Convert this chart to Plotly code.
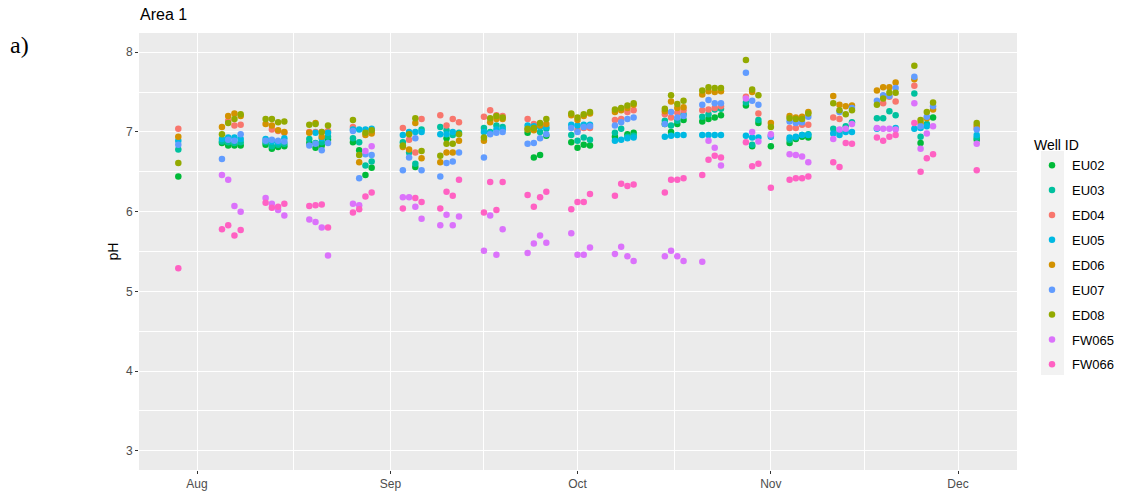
import pandas as pd
import plotly.graph_objects as go

# Sampling dates (one column of points per date)
dates = [
    "2020-07-29",
    "2020-08-05", "2020-08-06", "2020-08-07", "2020-08-08",
    "2020-08-12", "2020-08-13", "2020-08-14", "2020-08-15",
    "2020-08-19", "2020-08-20", "2020-08-21", "2020-08-22",
    "2020-08-26", "2020-08-27", "2020-08-28", "2020-08-29",
    "2020-09-03", "2020-09-04", "2020-09-05", "2020-09-06",
    "2020-09-09", "2020-09-10", "2020-09-11", "2020-09-12",
    "2020-09-16", "2020-09-17", "2020-09-18", "2020-09-19",
    "2020-09-23", "2020-09-24", "2020-09-25", "2020-09-26",
    "2020-09-30", "2020-10-01", "2020-10-02", "2020-10-03",
    "2020-10-07", "2020-10-08", "2020-10-09", "2020-10-10",
    "2020-10-15", "2020-10-16", "2020-10-17", "2020-10-18",
    "2020-10-21", "2020-10-22", "2020-10-23", "2020-10-24",
    "2020-10-28", "2020-10-29", "2020-10-30",
    "2020-11-01",
    "2020-11-04", "2020-11-05", "2020-11-06", "2020-11-07",
    "2020-11-11", "2020-11-12", "2020-11-13", "2020-11-14",
    "2020-11-18", "2020-11-19", "2020-11-20", "2020-11-21",
    "2020-11-24", "2020-11-25", "2020-11-26", "2020-11-27",
    "2020-12-04",
]

N = None

EU02 = [6.44,
        6.86, 6.83, 6.83, 6.83,  6.84, 6.79, 6.81, 6.82,  6.86, 6.80, 6.83, 6.90,
        6.87, 6.77, 6.46, 6.55,  N, N, 6.56, N,  N, 6.92, N, N,
        N, N, N, N,  6.99, 6.68, 6.71, 6.95,  6.87, 6.80, 6.84, 6.83,
        6.94, N, 6.97, 6.99,  7.10, 7.00, 7.10, 7.15,  7.13, 7.16, 7.18, 7.21,
        7.33, 6.82, 7.11,  6.82,
        6.86, 6.91, 6.94, 6.93,  N, N, N, N,  N, N, N, N,  N, 6.86, N, 7.18,
        6.90]
EU03 = [6.78,
        6.88, 6.87, 6.86, 6.87,  6.87, 6.82, 6.84, 6.85,  6.91, 6.86, 6.87, 6.94,
        6.92, 6.87, 6.58, 6.63,  6.87, 6.74, 6.60, 7.03,  7.06, 7.02, 6.96, 6.99,
        7.05, 7.00, 7.08, 7.06,  N, 7.04, 7.00, 7.04,  6.96, 6.89, 6.93, 6.90,
        6.99, 7.04, 6.94, 6.95,  7.14, 7.08, 7.14, 7.22,  7.19, 7.22, 7.28, 7.29,
        7.37, 6.84, 7.15,  N,
        6.90, 6.93, 6.96, 6.97,  7.04, 7.00, 7.07, 7.12,  7.17, 7.17, 7.26, 7.21,
        7.48, 6.94, 7.10, N,
        6.93]
ED04 = [7.04,
        N, 7.14, 7.08, 7.09,  N, 7.03, 7.01, 6.99,  7.00, 7.00, 7.00, 7.01,
        7.06, N, N, 7.00,  7.05, 6.90, 6.74, 7.16,  7.21, 7.08, 7.16, 7.12,
        7.19, 7.27, 7.21, 7.20,  7.16, 7.10, 7.09, N,  N, 7.02, 7.05, 7.05,
        7.15, 7.16, 7.25, 7.27,  7.22, 7.18, 7.24, 7.27,  7.27, 7.28, 7.30, 7.32,
        7.44, N, 7.23,  N,
        7.05, 7.05, 7.09, 7.09,  7.18, 7.16, N, N,  N, 7.36, 7.44, 7.38,
        7.58, N, N, N,
        7.05]
EU05 = [6.89,
        6.91, 6.93, 6.93, 6.91,  6.91, 6.88, 6.87, 6.92,  N, 6.99, 6.92, 6.99,
        7.03, 7.03, 7.03, 7.04,  6.96, 7.00, 7.00, 7.00,  6.97, 6.97, 7.00, N,
        7.00, 6.98, 7.03, 7.03,  7.08, 7.07, 7.06, 7.06,  7.09, 7.08, 7.09, 7.09,
        6.89, 6.90, 6.92, 6.93,  6.94, 6.95, 6.96, 6.96,  6.96, 6.96, 6.96, 6.96,
        6.95, 6.93, 6.93,  6.94,
        6.93, 6.94, 6.96, 6.96,  6.98, 6.96, 7.00, 7.00,  7.04, N, N, 7.05,
        7.04, 7.05, 7.07, N,
        6.96]
ED06 = [6.94,
        7.06, 7.20, 7.23, 7.20,  7.10, 7.08, 7.02, 7.00,  6.99, 7.11, 6.94, N,
        N, 6.62, 6.96, 6.98,  6.81, 6.78, 7.11, 6.67,  6.62, 6.74, 6.74, 6.89,
        6.89, 7.12, 7.16, 7.16,  7.03, 7.02, 7.08, 7.10,  7.21, 7.15, 7.20, 7.23,
        7.25, 7.27, 7.30, 7.34,  7.26, 7.38, 7.30, 7.31,  7.47, 7.51, 7.50, 7.51,
        N, 7.50, N,  7.11,
        7.20, 7.18, 7.19, 7.25,  7.45, 7.34, 7.32, 7.33,  7.52, 7.56, 7.56, 7.62,
        7.66, 7.11, 7.17, 7.28,
        7.08]
EU07 = [6.84,
        6.66, 6.90, 6.89, 6.97,  6.89, 6.90, 6.89, 6.88,  6.83, 6.85, 6.77, 6.86,
        7.01, 6.42, 6.72, 6.71,  6.52, 6.68, 6.92, 6.52,  6.44, 6.61, 6.63, 6.74,
        6.68, 6.97, 6.99, 7.00,  6.85, 6.86, 6.92, 6.97,  7.05, 7.00, 7.06, 7.07,
        7.08, 7.12, 7.16, 7.18,  7.10, 7.25, 7.18, 7.20,  7.34, 7.40, 7.36, 7.36,
        7.74, 7.39, 7.34,  6.95,
        7.13, 7.11, 7.12, 7.19,  N, 7.25, N, 7.30,  7.39, 7.46, 7.45, 7.55,
        7.69, 7.07, 7.19, 7.32,
        7.03]
ED08 = [6.61,
        6.97, 7.11, 7.16, 7.22,  7.16, 7.16, 7.12, 7.13,  7.09, 7.10, 7.00, 7.08,
        7.15, 6.71, 6.99, 7.02,  6.83, 6.97, 7.17, 6.76,  6.70, 6.85, 6.85, 6.97,
        6.93, 7.17, 7.20, 7.18,  7.04, 7.05, 7.11, 7.16,  7.23, 7.18, 7.22, 7.25,
        7.28, 7.30, 7.33, 7.36,  7.29, 7.46, 7.35, 7.39,  7.52, 7.56, 7.55, 7.55,
        7.90, 7.53, 7.46,  7.06,
        7.17, 7.16, 7.16, 7.23,  7.36, 7.27, 7.22, 7.27,  7.34, 7.42, 7.49, 7.49,
        7.83, 7.15, 7.25, 7.37,
        7.11]
FW065 = [N,
         6.46, 6.40, 6.07, 6.00,  6.17, 6.10, 6.02, 5.95,  5.90, 5.87, 5.80, 5.45,
         6.10, 6.08, 6.76, 6.82,  6.18, 6.18, 6.06, 5.91,  5.83, 5.96, 5.83, 5.94,
         5.51, 5.95, 5.46, 5.78,  5.48, 5.60, 5.70, 5.61,  5.73, 5.46, 5.46, 5.55,
         5.47, 5.56, 5.44, 5.38,  5.44, 5.51, 5.44, 5.38,  5.37, 6.89, 6.80, 6.58,
         7.42, 7.00, 6.88,  6.97,
         6.72, 6.71, 6.69, 6.62,  6.91, 7.03, 7.04, 7.10,  7.05, 7.04, 7.04, 7.03,
         7.36, 6.79, 6.98, 7.07,
         6.85]
FW066 = [5.29,
         5.78, 5.83, 5.70, 5.77,  6.11, 6.05, 6.06, 6.10,  6.07, 6.08, 6.09, 5.80,
         5.99, 6.03, 6.19, 6.24,  6.04, N, 6.17, 6.12,  6.04, 6.25, 6.20, 6.40,
         5.99, 6.37, 6.02, 6.37,  6.21, 6.06, 6.18, 6.25,  6.03, 6.12, 6.12, 6.22,
         6.20, 6.35, 6.32, 6.34,  6.24, 6.40, 6.40, 6.42,  6.46, 6.65, 6.70, 6.68,
         6.87, 6.57, 6.60,  6.30,
         6.40, 6.42, 6.42, 6.44,  6.62, 6.56, 6.86, 6.85,  6.93, 6.89, 6.94, 6.96,
         7.11, 6.50, 6.67, 6.72,
         6.52]

wells = ["EU02", "EU03", "ED04", "EU05", "ED06", "EU07", "ED08", "FW065", "FW066"]
series = [EU02, EU03, ED04, EU05, ED06, EU07, ED08, FW065, FW066]
colors = {
    "EU02": "#00BA38", "EU03": "#00C19F", "ED04": "#F8766D",
    "EU05": "#00B9E3", "ED06": "#D39200", "EU07": "#619CFF",
    "ED08": "#93AA00", "FW065": "#DB72FB", "FW066": "#FF61C3",
}

month_breaks = ["2020-08-01", "2020-09-01", "2020-10-01", "2020-11-01", "2020-12-01"]
mb = pd.to_datetime(month_breaks)
minor_x = [(mb[i] + (mb[i + 1] - mb[i]) / 2).strftime("%Y-%m-%d %H:%M") for i in range(len(mb) - 1)]

W, H = 1121, 494
L, R, T, B = 139, 1017, 33, 470


def px_x(p):
    return (p - L) / (R - L)


def px_y(p):
    return (B - p) / (B - T)


fig = go.Figure()
for name, vals in zip(wells, series):
    fig.add_trace(go.Scatter(
        x=dates, y=vals, mode="markers", name=name, legendgroup=name,
        marker=dict(color=colors[name], size=6.5, line=dict(width=0)),
    ))

axis_common = dict(
    showline=False, zeroline=False, automargin=False,
    gridcolor="white", gridwidth=1.1,
    ticks="outside", ticklen=3, tickwidth=1, tickcolor="#333333",
    tickfont=dict(family="Liberation Sans, Arial", size=12, color="#4D4D4D"),
)

fig.update_xaxes(
    **axis_common,
    type="date",
    range=["2020-07-22 16:48", "2020-12-10 11:00"],
    tickmode="array", tickvals=month_breaks, tickformat="%b",
    minor=dict(tickmode="array", tickvals=minor_x, showgrid=True,
               gridcolor="white", gridwidth=0.55, ticklen=0),
)
fig.update_yaxes(
    **axis_common,
    range=[2.76, 8.24],
    tickmode="array", tickvals=[3, 4, 5, 6, 7, 8],
    minor=dict(tickmode="array", tickvals=[3.5, 4.5, 5.5, 6.5, 7.5], showgrid=True,
               gridcolor="white", gridwidth=0.55, ticklen=0),
    title=dict(text="pH", standoff=4,
               font=dict(family="Liberation Sans, Arial", size=14, color="black")),
)

# grey background behind the legend keys
fig.add_shape(type="rect", xref="paper", yref="paper",
              x0=px_x(1041), x1=px_x(1064), y0=px_y(375), y1=px_y(151),
              fillcolor="#F2F2F2", line=dict(width=0), layer="below")

fig.add_annotation(text="a)", xref="paper", yref="paper",
                   x=px_x(8), y=px_y(45), xanchor="left", yanchor="middle",
                   showarrow=False,
                   font=dict(family="Liberation Serif, Times New Roman", size=24, color="black"))

fig.update_layout(
    width=W, height=H,
    margin=dict(l=L, r=W - R, t=T, b=H - B, autoexpand=False),
    paper_bgcolor="white", plot_bgcolor="#EBEBEB",
    title=dict(text="Area 1", x=140 / W, xanchor="left", y=1 - 14 / H, yanchor="middle",
               font=dict(family="Liberation Sans, Arial", size=16, color="black")),
    legend=dict(
        x=px_x(1032), y=px_y(132), xanchor="left", yanchor="top",
        bgcolor="rgba(0,0,0,0)",
        title=dict(text="Well ID", font=dict(family="Liberation Sans, Arial", size=14, color="black")),
        font=dict(family="Liberation Sans, Arial", size=13, color="black"),
        itemsizing="trace", tracegroupgap=5,
    ),
    showlegend=True,
)

fig.write_html("out.html")
